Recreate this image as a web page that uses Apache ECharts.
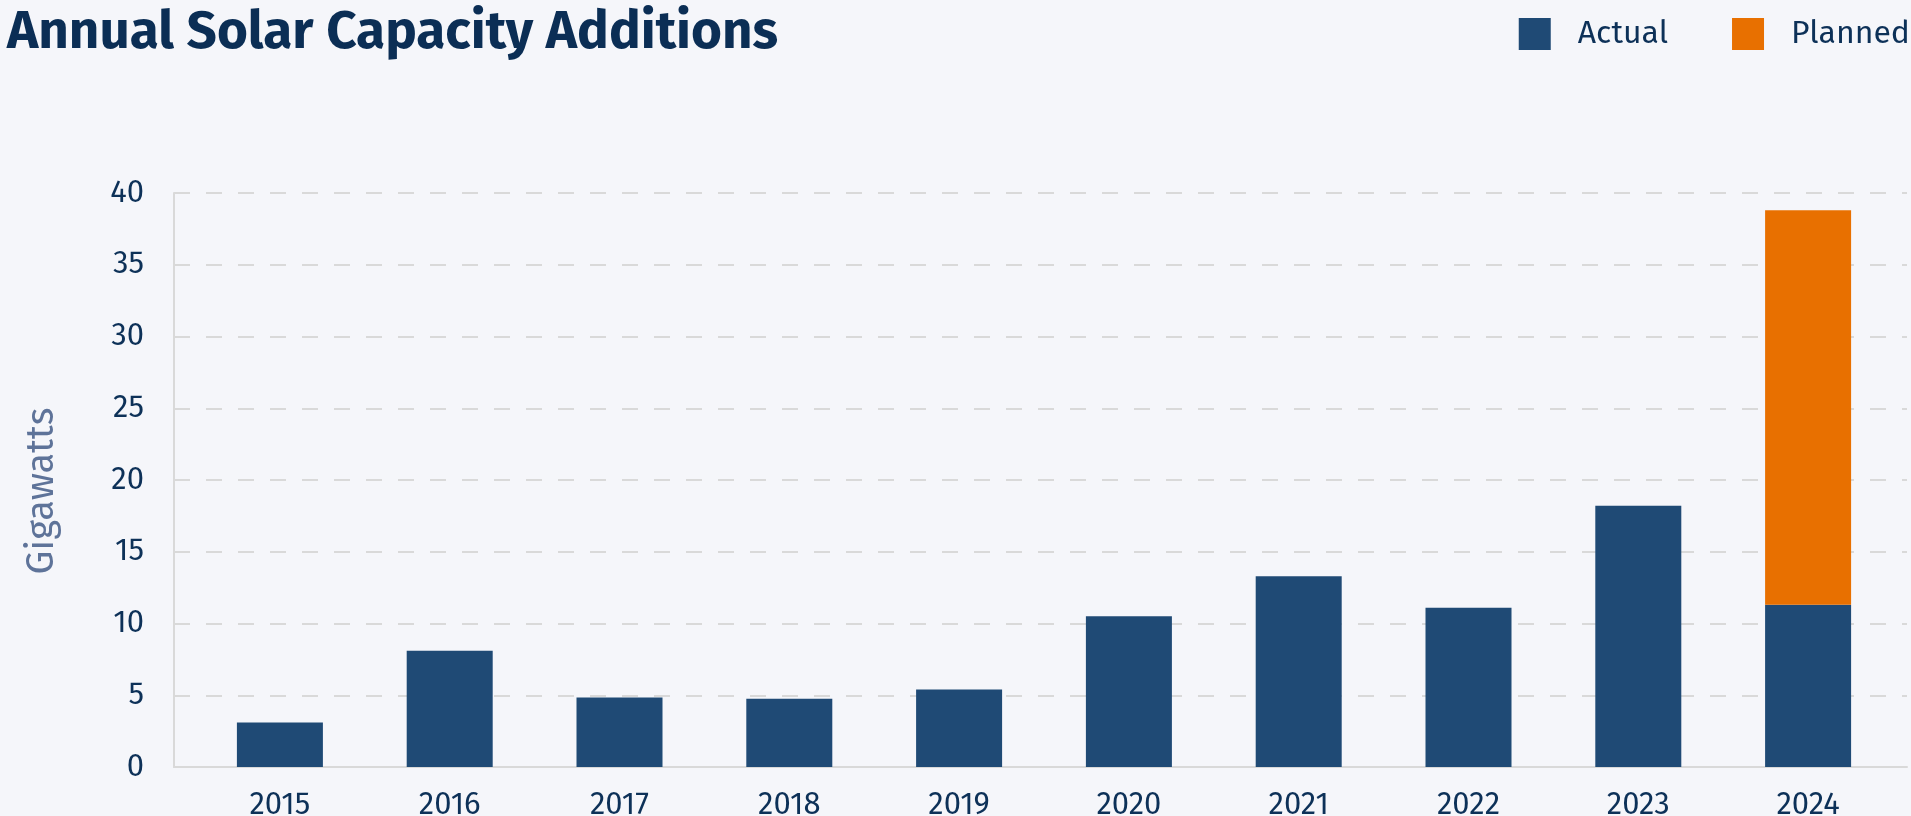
<!DOCTYPE html>
<html>
<head>
<meta charset="utf-8">
<script src="https://cdn.jsdelivr.net/npm/echarts@6/dist/echarts.min.js"></script>
<style>
  html, body { margin: 0; padding: 0; background: #f5f6fa; }
  #chart { width: 1911px; height: 816px; }
</style>
</head>
<body>
<div id="chart"></div>
<script>
const years = ['2015', '2016', '2017', '2018', '2019', '2020', '2021', '2022', '2023', '2024'];
const actual = [3.1, 8.1, 4.85, 4.75, 5.4, 10.5, 13.3, 11.1, 18.2, 11.3];
const planned = [null, null, null, null, null, null, null, null, null, 27.5];
const yTicks = { min: 0, max: 40, interval: 5 };

const FONT = "'Fira Sans', 'Noto Sans', sans-serif";
const NAVY = '#0d3158';

const chart = echarts.init(document.getElementById('chart'), null, { renderer: 'canvas' });
chart.setOption({
  backgroundColor: '#f5f6fa',
  animation: false,
  title: {
    text: 'Annual Solar Capacity Additions',
    left: 7, top: 7, padding: 0,
    textStyle: { fontFamily: FONT, fontSize: 53, fontWeight: 'bold', color: '#0b2e55' }
  },
  legend: {
    right: 1, top: 18, padding: 0, orient: 'horizontal',
    itemWidth: 32, itemHeight: 32, itemGap: 64,
    icon: 'rect',
    textStyle: { fontFamily: FONT, fontSize: 32, color: NAVY, padding: [0, 0, 0, 22] },
    data: ['Actual', 'Planned']
  },
  grid: [
    { left: 174, right: 4, top: 193, bottom: 49, containLabel: false, outerBoundsMode: 'none' },
    { left: 195, right: 18, top: 193, bottom: 49, containLabel: false, outerBoundsMode: 'none' }
  ],
  xAxis: [
    { gridIndex: 0, type: 'value', min: 0, max: 1,
      axisLine: { show: true, lineStyle: { color: '#d9d9d9', width: 2 } },
      axisTick: { show: false }, axisLabel: { show: false }, splitLine: { show: false } },
    { gridIndex: 1, type: 'category', data: years,
      axisLine: { show: false }, axisTick: { show: false },
      axisLabel: { fontFamily: FONT, fontSize: 31, color: NAVY, margin: 23 } }
  ],
  yAxis: [
    { gridIndex: 0, type: 'value', min: yTicks.min, max: yTicks.max, interval: yTicks.interval,
      name: 'Gigawatts', nameLocation: 'middle', nameRotate: 90, nameGap: 113,
      nameTextStyle: { fontFamily: FONT, fontSize: 38, color: '#5e7399', padding: [0, 22, 0, 0] },
      axisLine: { show: true, lineStyle: { color: '#d9d9d9', width: 2 } },
      axisTick: { show: false },
      axisLabel: { fontFamily: FONT, fontSize: 31, color: NAVY, margin: 30 },
      splitLine: { show: true, lineStyle: { color: '#d9d9d9', width: 2, type: [16, 16] } } },
    { gridIndex: 1, type: 'value', min: yTicks.min, max: yTicks.max, interval: yTicks.interval,
      show: false, splitLine: { show: false } }
  ],
  series: [
    { name: 'Actual', type: 'bar', stack: 'total', xAxisIndex: 1, yAxisIndex: 1,
      barWidth: 86, data: actual, itemStyle: { color: '#1f4a75' } },
    { name: 'Planned', type: 'bar', stack: 'total', xAxisIndex: 1, yAxisIndex: 1,
      barWidth: 86, data: planned, itemStyle: { color: '#e87000' } }
  ]
});
</script>
</body>
</html>
